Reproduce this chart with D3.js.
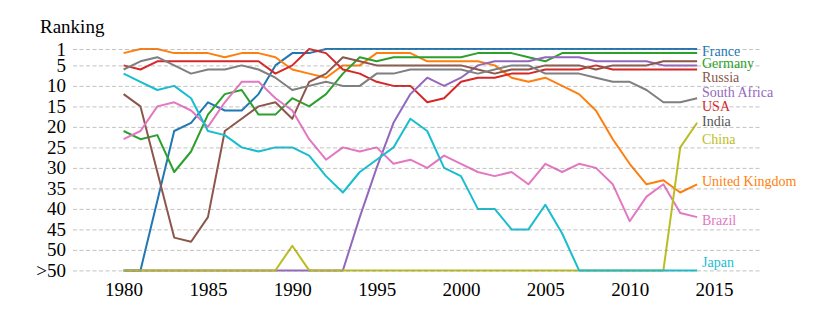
<!DOCTYPE html>
<html>
<head>
<meta charset="utf-8">
<script src="https://cdn.jsdelivr.net/npm/d3@7"></script>
<style>
  body { margin: 0; background: #fff; }
  svg { display: block; }
  svg text { font-family: "Liberation Serif", "Times New Roman", "Liberation Sans", sans-serif; }
</style>
</head>
<body>
<svg id="chart" width="828" height="327"></svg>
<script>
// years on the x axis, ranks on the y axis (55 stands for ">50")
const years = d3.range(1980, 2015);

const france = [55, 55, 38, 21, 19, 14, 16, 16, 12, 5, 2, 2, 1, 1, 1, 1, 1, 1, 1, 1, 1, 1, 1, 1, 1, 1, 1, 1, 1, 1, 1, 1, 1, 1, 1];
const unitedKingdom = [2, 1, 1, 2, 2, 2, 3, 2, 2, 3, 6, 7, 8, 5, 5, 2, 2, 2, 4, 4, 4, 4, 5, 8, 9, 8, 10, 12, 16, 23, 29, 34, 33, 36, 34];
const germany = [21, 23, 22, 31, 26, 17, 12, 11, 17, 17, 13, 15, 12, 7, 3, 4, 3, 3, 3, 3, 3, 2, 2, 2, 3, 4, 2, 2, 2, 2, 2, 2, 2, 2, 2];
const usa = [5, 6, 4, 4, 4, 4, 4, 4, 4, 7, 5, 1, 2, 6, 7, 9, 10, 10, 14, 13, 9, 8, 8, 7, 7, 6, 6, 6, 5, 6, 6, 6, 6, 6, 6];
const southAfrica = [55, 55, 55, 55, 55, 55, 55, 55, 55, 55, 55, 55, 55, 55, 42, 30, 19, 12, 8, 10, 8, 5, 4, 4, 4, 3, 3, 3, 4, 4, 4, 4, 5, 5, 5];
const russia = [12, 15, 31, 47, 48, 42, 21, 18, 15, 14, 18, 9, 7, 3, 4, 5, 5, 5, 5, 5, 5, 6, 7, 6, 6, 5, 5, 5, 6, 5, 5, 5, 4, 4, 4];
const brazil = [23, 21, 15, 14, 16, 20, 14, 9, 9, 13, 16, 23, 28, 25, 26, 25, 29, 28, 30, 27, 29, 31, 32, 31, 34, 29, 31, 29, 30, 34, 43, 37, 34, 41, 42];
const india = [6, 4, 3, 5, 7, 6, 6, 5, 6, 8, 11, 10, 9, 10, 10, 7, 7, 6, 6, 6, 6, 7, 6, 5, 5, 7, 7, 7, 8, 9, 9, 11, 14, 14, 13];
const china = [55, 55, 55, 55, 55, 55, 55, 55, 55, 55, 49, 55, 55, 55, 55, 55, 55, 55, 55, 55, 55, 55, 55, 55, 55, 55, 55, 55, 55, 55, 55, 55, 55, 25, 19];
const japan = [7, 9, 11, 10, 13, 21, 22, 25, 26, 25, 25, 27, 32, 36, 31, 28, 25, 18, 21, 30, 32, 40, 40, 45, 45, 39, 46, 55, 55, 55, 55, 55, 55, 55, 55];

const countries = ["France", "United Kingdom", "Germany", "USA", "South Africa", "Russia", "Brazil", "India", "China", "Japan"];
const series = [france, unitedKingdom, germany, usa, southAfrica, russia, brazil, india, china, japan];
const colors = ["#1f77b4", "#ff7f0e", "#2ca02c", "#d62728", "#9467bd", "#8c564b", "#e377c2", "#7f7f7f", "#bcbd22", "#17becf"];

const yTicks = [1, 5, 10, 15, 20, 25, 30, 35, 40, 45, 50, 55];
const yTickLabels = ["1", "5", "10", "15", "20", "25", "30", "35", "40", "45", "50", ">50"];
const xTicks = [1980, 1985, 1990, 1995, 2000, 2005, 2010, 2015];

// label baselines at the right end (pixels)
const labelY = {
  "France": 56, "Germany": 68, "Russia": 82, "South Africa": 97, "USA": 111,
  "India": 126, "China": 144, "United Kingdom": 186, "Brazil": 225, "Japan": 267
};

const svg = d3.select("#chart");

const x = d3.scaleLinear().domain([1980, 2015]).range([123.6, 714]);
const y = d3.scaleLinear().domain([1, 55]).range([49, 270.4]);

const line = d3.line()
  .x((d, i) => x(years[i]))
  .y(d => y(d));

// data lines
series.forEach((s, k) => {
  svg.append("path")
    .datum(s)
    .attr("fill", "none")
    .attr("stroke", colors[k])
    .attr("stroke-width", 2)
    .attr("stroke-linejoin", "round")
    .attr("d", line);
});

// dashed grid, drawn on top like the original
const grid = svg.append("g")
  .attr("transform", "translate(73,0)")
  .call(d3.axisLeft(y).tickValues(yTicks).tickSize(-(762 - 73)).tickFormat(""));
grid.select(".domain").remove();
grid.selectAll("line")
  .attr("stroke", "#888")
  .attr("stroke-opacity", 0.5)
  .attr("stroke-width", 1)
  .attr("stroke-dasharray", "4,2.5");

// y axis labels
const yAxis = svg.append("g")
  .attr("transform", "translate(66,0)")
  .call(d3.axisLeft(y).tickValues(yTicks).tickSize(0).tickPadding(0)
    .tickFormat((d, i) => yTickLabels[i]));
yAxis.attr("font-family", null).attr("font-size", 19);
yAxis.select(".domain").remove();
yAxis.selectAll("text").attr("fill", "#000");

// x axis labels
const xAxis = svg.append("g")
  .attr("transform", "translate(0,279.5)")
  .call(d3.axisBottom(x).tickValues(xTicks).tickSize(0).tickPadding(3).tickFormat(d3.format("d")));
xAxis.attr("font-family", null).attr("font-size", 19);
xAxis.select(".domain").remove();
xAxis.selectAll("text").attr("fill", "#000");

// axis title
svg.append("text")
  .attr("x", 40)
  .attr("y", 33)
  .attr("font-size", 19)
  .attr("fill", "#000")
  .text("Ranking");

// country labels
countries.forEach((c, k) => {
  svg.append("text")
    .attr("x", 702)
    .attr("y", labelY[c])
    .attr("font-size", 14)
    .attr("fill", c === "India" ? "#555" : colors[k])
    .text(c);
});
</script>
</body>
</html>
